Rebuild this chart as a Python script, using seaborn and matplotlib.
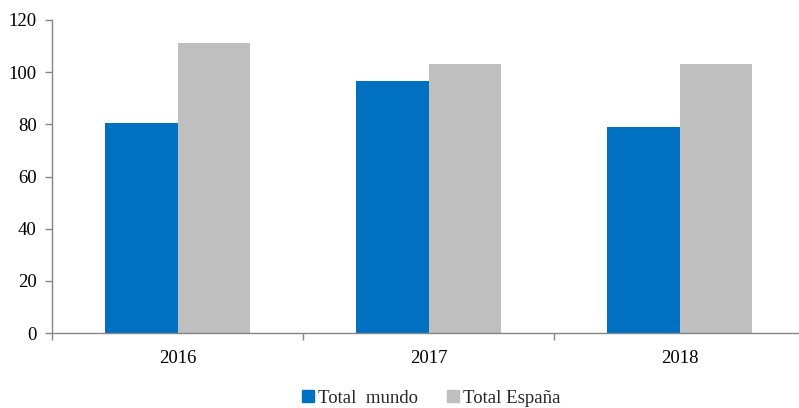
import matplotlib
matplotlib.use("Agg")
import matplotlib.pyplot as plt
from matplotlib.lines import Line2D
import seaborn as sns
import pandas as pd

years = ["2016", "2017", "2018"]
total_mundo = [80.6, 96.5, 79.1]
total_espana = [111.1, 103.0, 103.1]
series_names = ["Total  mundo", "Total España"]
colors = ["#0070C0", "#BFBFBF"]
y_ticks = [0, 20, 40, 60, 80, 100, 120]

df = pd.DataFrame({
    "year": years * 2,
    "value": total_mundo + total_espana,
    "series": [series_names[0]] * 3 + [series_names[1]] * 3,
})

sns.set_theme(style="white")
plt.rcParams["font.family"] = ["Liberation Serif", "DejaVu Serif"]

fig = plt.figure(figsize=(7.99, 4.08), dpi=100)
W, H = 799, 408
left, right, top, bottom = 52, 805, 20, 333
ax = fig.add_axes([left / W, 1 - bottom / H, (right - left) / W, (bottom - top) / H])

sns.barplot(data=df, x="year", y="value", hue="series", palette=colors,
            width=0.58, saturation=1, ax=ax, legend=False, linewidth=0)

ax.set_ylim(0, 120)
ax.set_xlim(-0.5, 2.5)
ax.set_yticks(y_ticks)
ax.set_xlabel("")
ax.set_ylabel("")

axis_color = "#868686"
for side in ["top", "right"]:
    ax.spines[side].set_visible(False)
for side in ["left", "bottom"]:
    ax.spines[side].set_color(axis_color)
    ax.spines[side].set_linewidth(1.0)

ax.tick_params(axis="y", which="major", length=5, width=1, color=axis_color,
               labelsize=13.5, pad=6, left=True, labelcolor="black")
ax.tick_params(axis="x", which="major", length=0, labelsize=13.5, pad=12,
               labelcolor="black")
ax.set_xticks([-0.5, 0.5, 1.5, 2.5], minor=True)
ax.tick_params(axis="x", which="minor", length=5, width=1, color=axis_color,
               bottom=True)

handles = [Line2D([0], [0], marker="s", linestyle="none", markersize=8.5,
                  markerfacecolor=c, markeredgecolor=c) for c in colors]
fig.legend(handles, series_names, loc="center", bbox_to_anchor=(430 / W, 1 - 398 / H),
           ncol=2, frameon=False, fontsize=13.5, handletextpad=0.1,
           columnspacing=1.4, handlelength=0.9)

fig.savefig("out.png", dpi=100)
